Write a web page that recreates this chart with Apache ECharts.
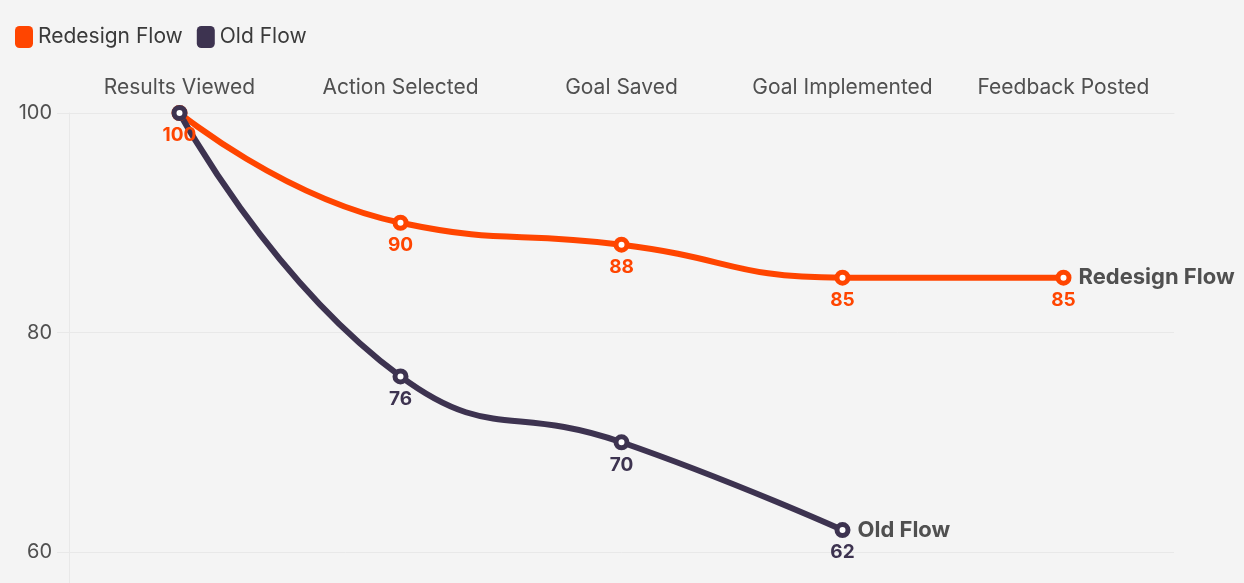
<!DOCTYPE html>
<html><head><meta charset="utf-8">
<script src="https://cdn.jsdelivr.net/npm/echarts@6/dist/echarts.min.js"></script>
<style>html,body{margin:0;padding:0;background:#f4f4f4}#c{width:1244px;height:583px}</style>
</head><body><div id="c"></div>
<script>
const categories = ['Results Viewed','Action Selected','Goal Saved','Goal Implemented','Feedback Posted'];
const redesignFlow = [100, 90, 88, 85, 85];
const oldFlow = [100, 76, 70, 62];
const seriesNames = ['Redesign Flow','Old Flow'];
const colors = ['#ff4500', '#3d3350'];
const yTicks = [60, 80, 100];
const yMin = 57.18;

const FONT = 'Inter';
const chart = echarts.init(document.getElementById('c'));
function mk(name, data, color) {
  return {
    name, type: 'line', data, smooth: 0.5,
    symbol: 'circle', symbolSize: 11,
    lineStyle: { width: 6, color },
    itemStyle: { color: '#ffffff', borderColor: color, borderWidth: 5 },
    label: { show: true, position: 'bottom', distance: 5, color, fontWeight: 'bold', fontSize: 19, fontFamily: FONT },
    labelLayout: { hideOverlap: true },
    endLabel: { show: true, formatter: '{a}', color: '#505050', fontWeight: 'bold', fontSize: 22, fontFamily: FONT, distance: 15 },
    emphasis: { disabled: true }
  };
}
chart.setOption({
  backgroundColor: '#f4f4f4',
  animation: false,
  legend: {
    left: 10, top: 21, icon: 'roundRect', itemWidth: 18, itemHeight: 22, itemGap: 14,
    textStyle: { fontSize: 21, color: '#3a3a3a', fontFamily: FONT },
    itemStyle: { borderWidth: 0 },
    data: seriesNames.map((n, i) => ({ name: n, itemStyle: { color: colors[i], borderWidth: 0 } }))
  },
  grid: { left: 69, right: 70, top: 113, bottom: 0 },
  xAxis: {
    type: 'category', position: 'top', data: categories,
    axisLine: { lineStyle: { color: '#e8e8e8' } },
    axisTick: { alignWithLabel: true, length: 13, lineStyle: { color: '#e8e8e8' } },
    axisLabel: { interval: 0, fontSize: 21, color: '#505050', margin: 15, fontFamily: FONT }
  },
  yAxis: {
    type: 'value', min: yMin, max: yTicks[yTicks.length - 1],
    axisLine: { show: true, lineStyle: { color: '#e8e8e8' } },
    axisTick: { show: true, length: 12, customValues: yTicks, lineStyle: { color: '#e8e8e8' } },
    splitLine: { lineStyle: { color: '#e8e8e8' } },
    axisLabel: { fontSize: 20, color: '#505050', margin: 17, fontFamily: FONT, customValues: yTicks }
  },
  series: [mk(seriesNames[0], redesignFlow, colors[0]), mk(seriesNames[1], oldFlow, colors[1])]
});
</script></body></html>
